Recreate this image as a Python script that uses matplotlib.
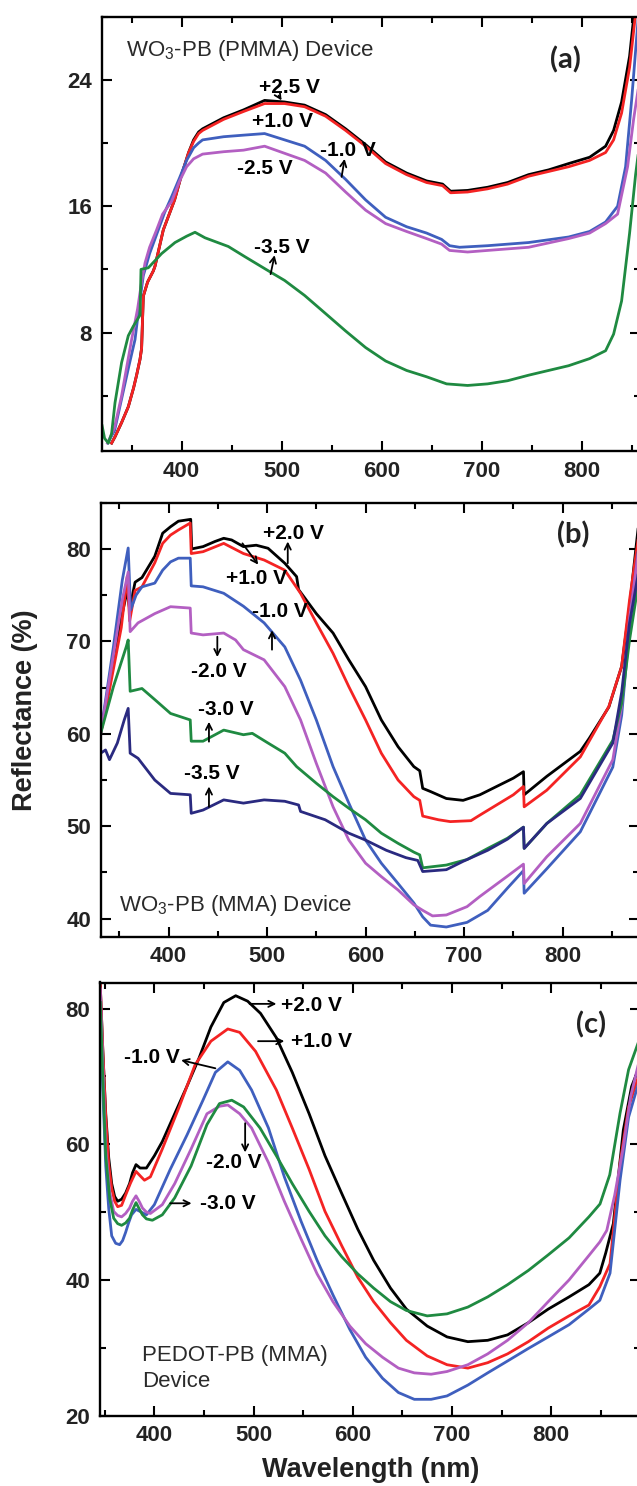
import matplotlib
matplotlib.use('Agg')
import matplotlib.pyplot as plt
from matplotlib.ticker import MultipleLocator

plt.rcParams['font.family'] = ['Liberation Sans', 'DejaVu Sans']
plt.rcParams['mathtext.fontset'] = 'custom'
plt.rcParams['mathtext.rm'] = 'Liberation Sans'
plt.rcParams['mathtext.it'] = 'Liberation Sans:italic'
plt.rcParams['mathtext.bf'] = 'Liberation Sans:bold'

# ---------------- Panel (a): WO3-PB (PMMA) ----------------
a_red_x = [330, 333.4, 340, 346.7, 352, 355, 358.4, 360, 361.7, 366, 371.7, 373.4, 381.7, 393, 400, 407, 412,
           417, 421, 442, 462, 483, 503, 523, 544, 564, 584, 604, 625, 645, 661, 669, 686, 706, 726, 747,
           767, 787, 808, 824, 832, 840, 848, 854, 858]
a_red_y = [1.0, 1.4, 2.3, 3.3, 4.5, 5.3, 6.3, 7.0, 10.3, 11.2, 11.9, 12.2, 14.5, 16.4, 18.0, 19.4, 20.1,
           20.6, 20.8, 21.5, 22.0, 22.5, 22.5, 22.3, 21.7, 20.8, 19.8, 18.7, 18.0, 17.5, 17.3, 16.85, 16.9,
           17.1, 17.4, 17.9, 18.2, 18.5, 18.9, 19.4, 20.2, 21.9, 24.8, 28.2, 29.0]
a_black_x = [330, 333.4, 340, 346.7, 352, 355, 358.4, 360, 361.7, 366, 371.7, 373.4, 381.7, 393, 400, 407, 412,
             417, 421, 442, 462, 483, 503, 523, 544, 564, 584, 604, 625, 645, 661, 669, 686, 706, 726, 747,
             767, 787, 808, 824, 832, 840, 848, 853, 858]
a_black_y = [1.0, 1.4, 2.3, 3.3, 4.5, 5.3, 6.3, 7.0, 10.3, 11.2, 11.9, 12.2, 14.5, 16.4, 18.0, 19.4, 20.2,
             20.7, 20.9, 21.6, 22.1, 22.7, 22.6, 22.4, 21.8, 20.9, 19.9, 18.8, 18.1, 17.6, 17.4, 16.95, 17.0,
             17.2, 17.5, 18.0, 18.3, 18.7, 19.1, 19.8, 20.8, 22.6, 25.5, 28.5, 29.0]
a_blue_x = [326, 333, 340, 347, 353.4, 357, 361.7, 368, 376.7, 383, 390, 398, 405, 412, 417, 421, 442, 462,
            483, 503, 523, 544, 564, 584, 604, 625, 645, 660, 668, 678, 706, 747, 787, 808, 824, 836, 844,
            850, 858]
a_blue_y = [1.0, 1.8, 3.8, 5.8, 7.55, 9.4, 11.6, 13.0, 14.5, 15.6, 16.6, 17.8, 18.9, 19.7, 20.0, 20.2, 20.4,
            20.5, 20.6, 20.2, 19.8, 18.9, 17.7, 16.4, 15.3, 14.7, 14.3, 13.9, 13.5, 13.4, 13.5, 13.7, 14.05,
            14.4, 15.0, 16.0, 18.5, 22.7, 29.0]
a_magenta_x = [326, 333, 340, 350, 356, 360, 363.4, 368, 375, 381, 390, 398, 405, 412, 421, 442, 462, 483,
               503, 523, 544, 564, 584, 604, 625, 645, 660, 668, 686, 706, 747, 787, 808, 824, 836, 846, 852,
               858]
a_magenta_y = [1.0, 2.0, 4.0, 7.55, 9.5, 11.2, 12.4, 13.4, 14.5, 15.5, 16.3, 17.6, 18.5, 19.0, 19.3, 19.45,
               19.55, 19.8, 19.35, 18.9, 18.1, 16.9, 15.75, 14.9, 14.4, 13.95, 13.6, 13.2, 13.1, 13.2, 13.4,
               13.95, 14.3, 14.9, 15.5, 18.5, 21.5, 24.0]
a_green_x = [320.5, 323, 326.7, 330, 333.4, 340, 346.7, 351.7, 358.4, 359.4, 366.7, 380, 393.4, 405, 413.4,
             423.4, 446.7, 463.4, 487, 503, 523, 544, 564, 584, 604, 625, 645, 665, 686, 706, 726, 747, 767,
             787, 808, 824, 832, 840, 848, 854, 858]
a_green_y = [2.1, 1.3, 1.0, 1.6, 3.55, 6.1, 7.8, 8.4, 9.1, 12.0, 12.1, 13.0, 13.7, 14.1, 14.35, 14.0, 13.45,
             12.8, 11.9, 11.3, 10.35, 9.2, 8.1, 7.05, 6.2, 5.6, 5.2, 4.75, 4.65, 4.75, 4.95, 5.3, 5.6, 5.9,
             6.35, 6.85, 7.9, 10.0, 14.3, 18.0, 20.0]

# ---------------- Panel (b): WO3-PB (MMA) ----------------
b_black_x = [331, 336, 344, 352, 358, 360.5, 366, 373, 386, 394, 402, 410, 422.5, 423.5, 435, 447, 456, 464, 476,
             489, 501, 518, 530, 532, 550, 567, 583, 600, 616, 633, 649, 655, 658, 666, 682, 699, 716, 750,
             760.3, 761, 784, 818, 827, 847, 860, 868, 878]
b_black_y = [60.0, 63.0, 68.0, 72.5, 75.5, 73.5, 76.4, 76.9, 79.2, 81.7, 82.4, 83.0, 83.2, 80.0, 80.25, 80.8,
             81.15, 80.97, 80.25, 80.4, 80.07, 78.45, 77.0, 75.6, 73.0, 70.9, 68.0, 65.1, 61.5, 58.6, 56.45,
             56.0, 54.1, 53.75, 53.0, 52.8, 53.4, 55.2, 55.9, 53.4, 55.4, 58.1, 59.5, 62.9, 67.3, 73.8, 83.5]
b_red_x = [331, 336, 344, 352, 358, 360.5, 366, 373, 386, 394, 402, 410, 422, 423, 435, 456, 476, 497, 518,
           534, 550, 567, 583, 600, 616, 633, 649, 655, 658, 674, 686, 707, 716, 750, 760.3, 761, 784, 818,
           827, 847, 860, 868, 878]
b_red_y = [60.0, 62.5, 67.0, 71.5, 77.0, 72.2, 75.5, 75.9, 78.5, 80.6, 81.5, 82.05, 82.8, 79.5, 79.7, 80.6,
           79.5, 78.8, 77.7, 75.2, 72.0, 68.7, 65.1, 61.5, 57.9, 55.0, 53.2, 52.8, 51.1, 50.7, 50.5, 50.6,
           51.2, 53.4, 54.3, 52.1, 53.9, 57.5, 59.2, 62.95, 67.3, 74.5, 82.0]
b_blue_x = [331, 344, 353, 359, 361.5, 367, 373, 386, 394, 402, 410, 422, 423, 435, 456, 476, 497, 518, 534,
            550, 567, 583, 600, 616, 633, 649, 658, 666, 682, 703, 724, 744, 760.3, 761, 784, 818, 851,
            860, 868, 878]
b_blue_y = [60.0, 69.4, 76.6, 80.1, 73.4, 75.0, 75.9, 76.3, 77.7, 78.6, 79.0, 79.0, 76.0, 75.9, 75.2, 73.8,
            72.0, 69.4, 65.8, 61.5, 56.45, 52.5, 48.5, 46.0, 43.8, 41.7, 40.2, 39.3, 39.1, 39.6, 40.9, 43.3,
            45.2, 42.75, 45.4, 49.4, 56.4, 62.0, 71.5, 81.0]
b_magenta_x = [331, 344, 353, 359, 361, 369, 386, 402, 422, 423, 435, 456, 468, 476, 497, 518, 534, 550, 567,
               583, 600, 616, 633, 649, 658, 668, 682, 703, 716, 744, 760.3, 761, 784, 818, 851, 860, 868, 878]
b_magenta_y = [60.0, 68.5, 74.5, 77.5, 71.05, 72.0, 73.0, 73.75, 73.6, 70.9, 70.7, 70.9, 70.15, 69.1, 68.0,
               65.1, 61.5, 56.8, 52.1, 48.5, 46.0, 44.55, 43.1, 41.5, 40.9, 40.3, 40.4, 41.3, 42.4, 44.6, 45.9,
               43.8, 46.7, 50.3, 57.2, 63.0, 72.5, 80.5]
b_green_x = [331, 344, 357, 359, 361, 373, 386, 402, 422, 423, 435, 456, 476, 485, 501, 518, 530, 550, 567,
             583, 600, 616, 633, 649, 655, 658, 682, 703, 724, 744, 760.3, 761, 784, 818, 851, 860, 868, 878]
b_green_y = [60.0, 65.1, 69.4, 70.15, 64.6, 64.9, 63.7, 62.2, 61.5, 59.2, 59.2, 60.4, 59.9, 60.05, 59.0, 57.9,
             56.45, 54.65, 53.2, 51.95, 50.7, 49.25, 48.15, 47.2, 46.9, 45.5, 45.8, 46.4, 47.6, 48.7, 49.9,
             47.6, 50.3, 53.4, 59.3, 63.3, 70.15, 77.0]
b_navy_x = [331, 336, 340, 348, 355, 359, 361, 369, 386, 402, 422, 423, 435, 456, 476, 497, 518, 532, 534,
            559, 583, 600, 621, 641, 653, 658, 682, 699, 724, 744, 760.3, 761, 784, 818, 851, 860, 868, 878]
b_navy_y = [57.9, 58.25, 57.2, 59.0, 61.5, 62.75, 57.9, 57.35, 55.0, 53.55, 53.4, 51.4, 51.75, 52.85, 52.5,
            52.85, 52.7, 52.3, 51.6, 50.7, 49.25, 48.5, 47.4, 46.6, 46.3, 45.1, 45.3, 46.2, 47.4, 48.6, 49.9,
            47.6, 50.3, 53.0, 59.0, 64.5, 72.0, 78.0]

# ---------------- Panel (c): PEDOT-PB (MMA) ----------------
c_black_x = [345.5, 348, 351, 354, 357, 360, 363, 367, 371, 375, 378, 381.5, 385.6, 392, 400, 408, 420.5, 433,
             445, 457, 470, 482, 494, 507, 523, 539, 556, 572, 589, 605, 621, 638, 654, 675, 695, 716, 736,
             756, 777, 797, 818, 838, 849, 855, 862.6, 867, 872.7, 881, 889]
c_black_y = [83.4, 74.0, 64.5, 58.0, 54.2, 52.3, 51.6, 51.9, 52.8, 54.2, 55.8, 57.0, 56.5, 56.5, 58.3, 60.4,
             64.5, 68.6, 72.7, 77.3, 80.9, 81.9, 81.1, 79.3, 75.7, 70.6, 64.5, 58.3, 52.7, 47.5, 42.9, 38.8,
             35.7, 33.2, 31.6, 30.9, 31.1, 31.9, 33.7, 35.7, 37.5, 39.3, 41.0, 44.0, 48.3, 54.3, 62.1, 68.5,
             71.5]
c_red_x = [345.5, 348, 351, 354, 357, 360, 363, 367, 371, 376, 381.5, 386, 390, 396, 408, 425, 441, 457, 474,
           486, 502, 523, 539, 556, 572, 589, 605, 621, 638, 654, 675, 695, 716, 736, 756, 777, 797, 818,
           838, 849, 859.3, 869.4, 878, 889]
c_red_y = [83.4, 74.0, 64.0, 57.0, 53.5, 51.6, 50.8, 51.0, 52.5, 54.3, 56.0, 55.3, 54.7, 55.2, 59.3, 65.5,
           71.7, 75.2, 77.0, 76.5, 73.7, 68.0, 62.4, 56.3, 50.1, 45.0, 40.4, 36.8, 33.7, 31.1, 28.8, 27.5,
           27.0, 27.8, 29.1, 30.9, 32.9, 34.7, 36.3, 39.0, 42.4, 57.2, 65.5, 70.5]
c_blue_x = [345.5, 348, 351, 354, 357, 361, 365, 368, 371, 374, 377, 381.5, 385.6, 392, 400, 416, 433, 449,
            461.5, 474, 486, 498, 515, 531, 548, 564, 580, 597, 613, 630, 646, 662, 679, 695, 716, 736, 756,
            777, 797, 818, 838, 849, 859.3, 869.4, 878, 889]
c_blue_y = [79.8, 68.0, 56.8, 50.5, 46.5, 45.4, 45.2, 45.8, 47.0, 48.4, 49.6, 50.4, 50.1, 49.6, 51.1, 56.3,
            61.4, 66.5, 70.6, 72.15, 70.9, 68.0, 62.4, 55.2, 48.6, 42.9, 37.8, 32.7, 28.6, 25.5, 23.4, 22.4,
            22.4, 22.9, 24.5, 26.3, 28.05, 29.9, 31.6, 33.4, 35.7, 37.0, 41.0, 54.7, 64.0, 69.5]
c_magenta_x = [345.5, 348, 351, 355, 359, 363, 367, 371, 375, 378, 381.5, 385, 388, 392, 396, 408, 420.5, 437,
               453, 465.6, 474, 486, 498, 515, 531, 548, 564, 580, 597, 613, 630, 646, 662, 679, 695, 716,
               736, 756, 777, 797, 818, 838, 849, 856, 864, 872.7, 880, 889]
c_magenta_y = [82.9, 72.0, 59.3, 53.0, 50.1, 49.5, 49.3, 49.8, 50.6, 51.6, 52.4, 51.5, 50.6, 50.0, 49.8,
               51.1, 54.2, 59.3, 64.5, 65.6, 65.8, 64.5, 62.4, 57.3, 51.6, 46.0, 40.9, 36.8, 33.2, 30.6,
               28.6, 27.0, 26.3, 26.1, 26.5, 27.5, 29.1, 31.1, 33.7, 36.8, 40.0, 43.6, 45.6, 47.3, 52.5, 59.6,
               67.0, 72.5]
c_green_x = [345.5, 348, 351, 355, 359, 363, 367, 371, 375, 378, 381.5, 385, 388, 392, 398, 408, 420.5, 437,
             453, 465.6, 478, 490, 506.5, 523, 539, 556, 572, 589, 605, 621, 638, 654, 675, 695, 716, 736,
             756, 777, 797, 818, 838, 849.2, 859, 869.4, 878, 889]
c_green_y = [80.9, 70.0, 58.3, 52.0, 49.1, 48.3, 48.05, 48.4, 49.1, 50.3, 51.4, 50.4, 49.6, 49.0, 48.8, 49.6,
             52.1, 56.8, 62.9, 66.0, 66.5, 65.5, 62.4, 58.3, 54.2, 50.1, 46.5, 43.4, 40.9, 38.8, 36.8, 35.5,
             34.7, 35.0, 36.0, 37.5, 39.3, 41.4, 43.7, 46.2, 49.3, 51.2, 55.5, 64.6, 71.0, 75.5]

# colours
C_BLACK = '#000000'
C_RED = '#f42323'
C_BLUE = '#3f5fbe'
C_MAG = '#b35fc2'
C_GREEN = '#1f8a41'
C_NAVY = '#2a2a80'

W, H = 637, 1486
fig = plt.figure(figsize=(W / 100, H / 100), dpi=100)


def add_ax(left, top, bottom, right=639.5):
    return fig.add_axes([left / W, 1 - bottom / H, (right - left) / W, (bottom - top) / H])


axa = add_ax(101.6, 16.7, 451.0)
axb = add_ax(100.7, 502.7, 936.7)
axc = add_ax(100.0, 982.5, 1415.6)

LW = 2.0
TXT = 15
DEV = 16


def style(ax, xlim, ylim, ymaj, ymin):
    ax.set_xlim(*xlim)
    ax.set_ylim(*ylim)
    ax.xaxis.set_major_locator(MultipleLocator(100))
    ax.xaxis.set_minor_locator(MultipleLocator(50))
    ax.yaxis.set_major_locator(MultipleLocator(ymaj))
    ax.yaxis.set_minor_locator(MultipleLocator(ymin))
    ax.tick_params(which='both', direction='in', top=True, right=True, width=1.5,
                   labelsize=16, pad=7)
    ax.tick_params(which='major', length=7)
    ax.tick_params(which='minor', length=4)
    for lab in ax.get_xticklabels() + ax.get_yticklabels():
        lab.set_fontweight('bold')
        lab.set_color('#222222')
    for sp in ax.spines.values():
        sp.set_linewidth(1.7)


def vlabel(ax, x, y, s):
    ax.text(x, y, s, fontsize=TXT, fontweight='bold', ha='center', va='center')


def arrow(ax, tail, head):
    ax.annotate('', xy=head, xytext=tail,
                arrowprops=dict(arrowstyle='->', color='black', lw=1.3,
                                shrinkA=0, shrinkB=0, mutation_scale=11))


# ---- panel (a)
axa.plot(a_black_x, a_black_y, color=C_BLACK, lw=LW)
axa.plot(a_red_x, a_red_y, color=C_RED, lw=LW)
axa.plot(a_blue_x, a_blue_y, color=C_BLUE, lw=LW)
axa.plot(a_magenta_x, a_magenta_y, color=C_MAG, lw=LW)
axa.plot(a_green_x, a_green_y, color=C_GREEN, lw=LW)
style(axa, (320, 857.9), (0.5, 28.0), 8, 4)
axa.set_yticks([8, 16, 24])
vlabel(axa, 508, 23.5, '+2.5 V')
arrow(axa, (497, 23.0), (500, 22.7))
vlabel(axa, 501, 21.35, '+1.0 V')
vlabel(axa, 566, 19.55, '-1.0 V')
arrow(axa, (560, 17.86), (563, 19.0))
vlabel(axa, 483, 18.4, '-2.5 V')
vlabel(axa, 500, 13.4, '-3.5 V')
arrow(axa, (489, 11.7), (493, 12.9))
axa.text(0.046, 0.923, 'WO$_3$-PB (PMMA) Device', transform=axa.transAxes, fontsize=DEV,
         color='#2a2a2a', ha='left', va='center')
axa.text(0.862, 0.90, '(a)', transform=axa.transAxes, fontsize=21, fontweight='bold',
         family=['Lato', 'DejaVu Sans'], color='#222222', ha='center', va='center')

# ---- panel (b)
axb.plot(b_black_x, b_black_y, color=C_BLACK, lw=LW)
axb.plot(b_red_x, b_red_y, color=C_RED, lw=LW)
axb.plot(b_blue_x, b_blue_y, color=C_BLUE, lw=LW)
axb.plot(b_magenta_x, b_magenta_y, color=C_MAG, lw=LW)
axb.plot(b_green_x, b_green_y, color=C_GREEN, lw=LW)
axb.plot(b_navy_x, b_navy_y, color=C_NAVY, lw=LW)
style(axb, (331.1, 878.1), (38.05, 85.0), 10, 5)
vlabel(axb, 527, 81.7, '+2.0 V')
arrow(axb, (521, 78.45), (521, 80.8))
vlabel(axb, 489, 76.8, '+1.0 V')
arrow(axb, (475, 80.6), (491, 78.3))
vlabel(axb, 513, 73.2, '-1.0 V')
arrow(axb, (505, 69.1), (505, 71.2))
vlabel(axb, 451.5, 66.7, '-2.0 V')
arrow(axb, (449.5, 70.5), (449.5, 68.3))
vlabel(axb, 457.7, 62.6, '-3.0 V')
arrow(axb, (441, 59.15), (441, 61.3))
vlabel(axb, 444, 55.7, '-3.5 V')
arrow(axb, (441, 52.1), (441, 54.3))
axb.text(0.034, 0.073, 'WO$_3$-PB (MMA) Device', transform=axb.transAxes, fontsize=DEV,
         color='#2a2a2a', ha='left', va='center')
axb.text(0.877, 0.9256, '(b)', transform=axb.transAxes, fontsize=21, fontweight='bold',
         family=['Lato', 'DejaVu Sans'], color='#222222', ha='center', va='center')

# ---- panel (c)
axc.plot(c_black_x, c_black_y, color=C_BLACK, lw=LW)
axc.plot(c_red_x, c_red_y, color=C_RED, lw=LW)
axc.plot(c_blue_x, c_blue_y, color=C_BLUE, lw=LW)
axc.plot(c_magenta_x, c_magenta_y, color=C_MAG, lw=LW)
axc.plot(c_green_x, c_green_y, color=C_GREEN, lw=LW)
style(axc, (345.2, 889.0), (20.0, 83.85), 20, 10)
vlabel(axc, 558.5, 80.5, '+2.0 V')
arrow(axc, (496, 80.7), (523, 80.7))
vlabel(axc, 568, 75.1, '+1.0 V')
arrow(axc, (504.5, 75.2), (531, 75.2))
vlabel(axc, 397.5, 72.8, '-1.0 V')
arrow(axc, (461.5, 71.2), (427, 72.4))
vlabel(axc, 480, 57.3, '-2.0 V')
arrow(axc, (491.5, 63.1), (491.5, 58.8))
vlabel(axc, 474.5, 51.2, '-3.0 V')
arrow(axc, (416, 51.3), (437.5, 51.3))
axc.text(387.7, 28.8, 'PEDOT-PB (MMA)', fontsize=DEV, color='#2a2a2a', ha='left', va='center')
axc.text(387.7, 25.0, 'Device', fontsize=DEV, color='#2a2a2a', ha='left', va='center')
axc.text(0.911, 0.901, '(c)', transform=axc.transAxes, fontsize=21, fontweight='bold',
         family=['Lato', 'DejaVu Sans'], color='#222222', ha='center', va='center')

fig.text(25 / W, 1 - 710 / H, 'Reflectance (%)', rotation=90, fontsize=19.5, fontweight='bold',
         ha='center', va='center', color='#222222')
fig.text(371 / W, 1 - 1470 / H, 'Wavelength (nm)', fontsize=19.5, fontweight='bold',
         ha='center', va='center', color='#222222')

fig.savefig('out.png', dpi=100)
